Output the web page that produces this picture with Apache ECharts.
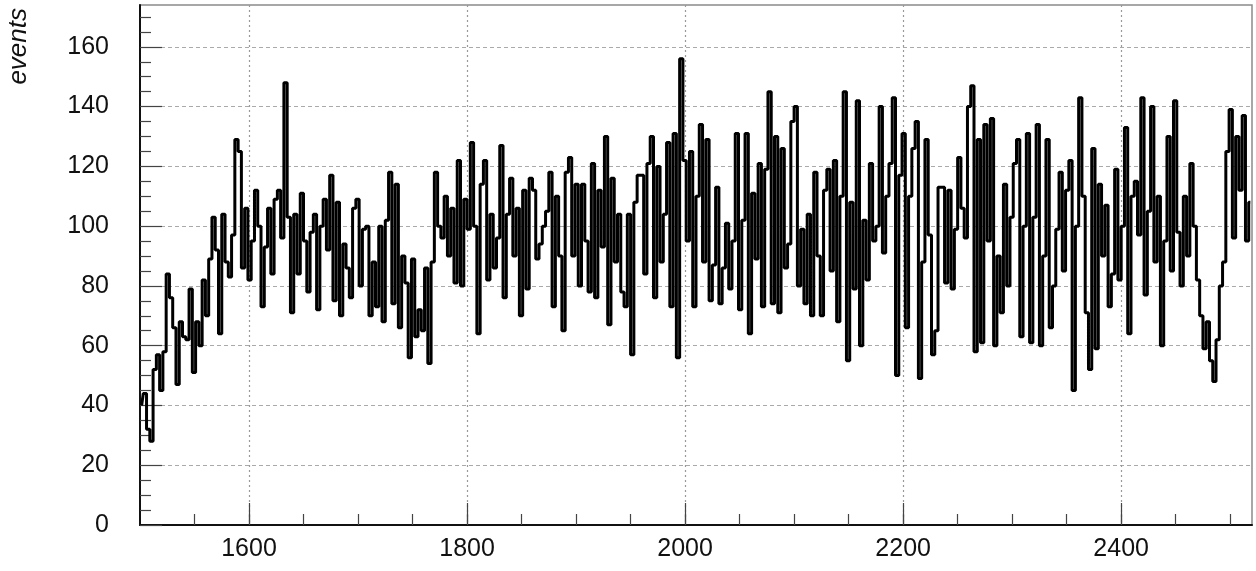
<!DOCTYPE html>
<html>
<head>
<meta charset="utf-8">
<script src="https://cdn.jsdelivr.net/npm/echarts@6/dist/echarts.min.js"></script>
<style>
  html, body { margin: 0; padding: 0; background: #fff; }
  #chart { width: 1256px; height: 571px; }
</style>
</head>
<body>
<div id="chart"></div>
<script>
// histogram: bins of width 3 starting at 1500
const binStart = 1500;
const binWidth = 3;

// counts per bin, in chunks of ~100 units
const counts1500 = [40,44,32,28,52,57,45,58,84,76,66,47,68,63,62,79,51,68,60,82,70,89,103,92,64,104,88,83,97,129,125];
const counts1593 = [86,106,82,95,112,100,73,93,106,84,109,112,96,148,103,71,104,84,111,95,78,98,104,72,100,109,92,117,75,108,70];
const counts1686 = [94,86,76,106,109,80,99,100,70,88,73,100,68,102,118,74,114,66,90,81,56,89,63,72,65,86,54,88,118,100];
const counts1776 = [96,110,90,106,81,122,80,109,99,128,100,64,114,122,82,104,86,96,127,76,104,116,90,106,70,112,79,116,112,89,94];
const counts1869 = [100,105,118,73,110,90,65,118,123,90,114,80,114,95,78,121,76,112,93,130,67,116,88,104,78,73,104,57,108,117];
const counts1959 = [117,84,121,130,76,120,88,104,128,73,131,56,156,122,95,125,73,110,134,88,129,75,87,113,74,86,101,79,95,131,72];
const counts2052 = [102,131,64,111,89,121,73,119,145,74,130,71,126,86,94,135,140,80,99,74,104,70,118,90,70,112,119,85,122,68,110];
const counts2145 = [145,55,108,79,142,60,102,82,121,95,100,140,91,110,121,143,50,117,131,66,110,126,135,49,88,129,97,57,65,113];
const counts2235 = [113,81,112,79,99,123,106,96,140,147,58,129,61,134,95,136,60,90,71,114,80,103,121,129,63,100,131,61,103,134,60];
const counts2328 = [90,129,66,80,99,118,85,112,122,45,100,143,110,71,52,126,59,114,90,107,73,84,119,82,100,133,64,110,115,97,143,77];
const counts2424 = [105,140,88,110,60,95,130,85,142,98,80,110,90,121,100,82,70,59,68,55,48,62,80,88,125,139,96,130,112,137,95,108];

// axis ticks
const xMajorTicks = [1600, 1800, 2000, 2200, 2400];
const xMinorTicks = [1550, 1600, 1650, 1700, 1750, 1800, 1850, 1900, 1950, 2000, 2050, 2100, 2150, 2200, 2250, 2300, 2350, 2400, 2450, 2500];
const yMajorTicks = [0, 20, 40, 60, 80, 100, 120, 140, 160];
const yMinorTicks = [5, 10, 15, 25, 30, 35, 45, 50, 55, 65, 70, 75, 85, 90, 95, 105, 110, 115, 125, 130, 135, 145, 150, 155, 165, 170];

const counts = [].concat(counts1500, counts1593, counts1686, counts1776, counts1869,
  counts1959, counts2052, counts2145, counts2235, counts2328, counts2424);
const points = counts.map((c, i) => [binStart + binWidth * (i + 0.5), c]);

const font = '"Liberation Sans", Arial, Helvetica, sans-serif';
const chart = echarts.init(document.getElementById('chart'));

const option = {
  animation: false,
  grid: {
    left: 140, right: 4, top: 5, bottom: 46,
    show: true, borderColor: '#8a8a8a', borderWidth: 1.5
  },
  xAxis: [
    {
      type: 'value', min: 1500, max: 2520, interval: 50, position: 'bottom',
      axisLine: { show: true, onZero: false, lineStyle: { color: '#111', width: 2 } },
      axisTick: { show: true, inside: true, length: 11, customValues: xMinorTicks, lineStyle: { color: '#444', width: 1.2 } },
      axisLabel: { show: false },
      splitLine: { show: false }
    },
    {
      type: 'value', min: 1500, max: 2520, position: 'bottom',
      axisLine: { show: false },
      axisTick: { show: true, inside: true, length: 22, customValues: xMajorTicks, lineStyle: { color: '#444', width: 1.2 } },
      axisLabel: {
        show: true, customValues: xMajorTicks, margin: 12, fontSize: 25, color: '#111', fontFamily: font,
        formatter: v => String(v)
      },
      splitLine: { show: true, lineStyle: { color: '#999', width: 1.2, type: [2, 3] } }
    }
  ],
  yAxis: [
    {
      type: 'value', min: 0, max: 174, interval: 5, position: 'left',
      axisLine: { show: true, onZero: false, lineStyle: { color: '#111', width: 2 } },
      axisTick: { show: true, inside: true, length: 11, customValues: yMinorTicks, lineStyle: { color: '#444', width: 1.2 } },
      axisLabel: { show: false },
      splitLine: { show: false }
    },
    {
      type: 'value', min: 0, max: 174, position: 'left',
      axisLine: { show: false },
      axisTick: { show: true, inside: true, length: 22, customValues: yMajorTicks, lineStyle: { color: '#444', width: 1.2 } },
      axisLabel: {
        show: true, customValues: yMajorTicks, margin: 31, fontSize: 25, color: '#111', fontFamily: font,
        formatter: v => String(v)
      },
      splitLine: { show: true, lineStyle: { color: '#aaa', width: 1.2, type: [4, 3] } }
    }
  ],
  series: [{
    type: 'line',
    xAxisIndex: 0, yAxisIndex: 0,
    step: 'middle',
    symbol: 'none',
    data: points,
    lineStyle: { color: '#000', width: 3 }
  }],
  graphic: [{
    type: 'text', x: 19, y: 8, rotation: Math.PI / 2,
    style: { text: 'events', fontSize: 26, fontStyle: 'italic', fontFamily: font, fill: '#111', textAlign: 'right', textVerticalAlign: 'middle' }
  }]
};
chart.setOption(option);
</script>
</body>
</html>
